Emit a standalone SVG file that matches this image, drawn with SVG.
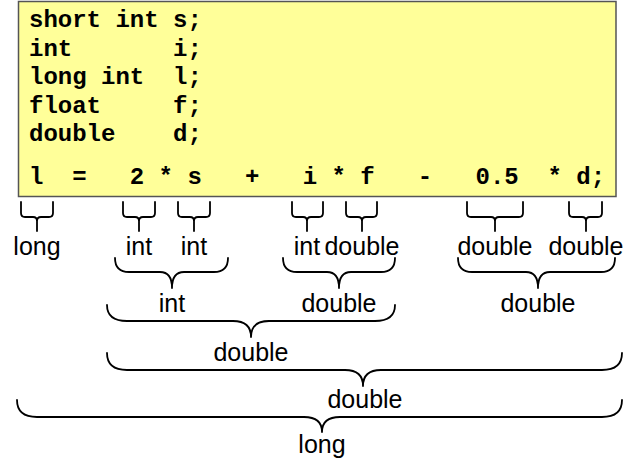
<svg xmlns="http://www.w3.org/2000/svg" width="625" height="462" viewBox="0 0 625 462">
<style>
.code{font-family:"Liberation Mono","Courier New",monospace;font-weight:bold;font-size:24px;fill:#000}
.lbl{font-family:"Liberation Sans",Arial,sans-serif;font-size:25px;fill:#000;text-anchor:middle}
.br{fill:none;stroke:#000;stroke-width:1.8;stroke-linecap:round;stroke-linejoin:round}
</style>
<rect width="625" height="462" fill="#fff"/>
<g id="codebox">
<rect x="18.5" y="1.5" width="597.5" height="195" fill="#FFFF99" stroke="#555" stroke-width="1.5"/>
<text class="code" xml:space="preserve" x="29" y="27">short int s;</text>
<text class="code" xml:space="preserve" x="29" y="55.5">int       i;</text>
<text class="code" xml:space="preserve" x="29" y="84">long int  l;</text>
<text class="code" xml:space="preserve" x="29" y="112.5">float     f;</text>
<text class="code" xml:space="preserve" x="29" y="141">double    d;</text>
<text class="code" xml:space="preserve" x="29" y="184">l  =   2 * s   +   i * f   -   0.5  * d;</text>
</g>
<g id="connectors">
<path class="br" d="M21,202 L21,213 Q21,217 25,217 L33,217 Q37,217 37,221 L37,231 M37,221 Q37,217 41,217 L49,217 Q53,217 53,213 L53,202"/>
<path class="br" d="M123,202 L123,213 Q123,217 127,217 L135,217 Q139,217 139,221 L139,231 M139,221 Q139,217 143,217 L151,217 Q155,217 155,213 L155,202"/>
<path class="br" d="M178,202 L178,213 Q178,217 182,217 L190,217 Q194,217 194,221 L194,231 M194,221 Q194,217 198,217 L206,217 Q210,217 210,213 L210,202"/>
<path class="br" d="M292,202 L292,213 Q292,217 296,217 L303,217 Q307,217 307,221 L307,231 M307,221 Q307,217 311,217 L319,217 Q323,217 323,213 L323,202"/>
<path class="br" d="M346,202 L346,213 Q346,217 350,217 L358,217 Q362,217 362,221 L362,231 M362,221 Q362,217 366,217 L373,217 Q377,217 377,213 L377,202"/>
<path class="br" d="M467,202 L467,213 Q467,217 471,217 L491,217 Q495,217 495,221 L495,231 M495,221 Q495,217 499,217 L519,217 Q523,217 523,213 L523,202"/>
<path class="br" d="M569,202 L569,213 Q569,217 573,217 L582,217 Q586,217 586,221 L586,231 M586,221 Q586,217 590,217 L598,217 Q602,217 602,213 L602,202"/>
<path class="br" d="M115,258 Q115,272 129,272 L160,272 Q172,272 172,288 Q172,272 184,272 L214,272 Q228,272 228,258"/>
<path class="br" d="M283,258 Q283,272 297,272 L327,272 Q339,272 339,288 Q339,272 351,272 L381,272 Q395,272 395,258"/>
<path class="br" d="M458,258 Q458,272 472,272 L526,272 Q538,272 538,288 Q538,272 550,272 L601,272 Q615,272 615,258"/>
<path class="br" d="M107,305 Q107,321 127,321 L233,321 Q251,321 251,337 Q251,321 269,321 L375,321 Q395,321 395,305"/>
<path class="br" d="M107,353 Q107,370 127,370 L345,370 Q363,370 363,386 Q363,370 381,370 L602,370 Q622,370 622,353"/>
<path class="br" d="M17,400 Q17,417 37,417 L304,417 Q322,417 322,432 Q322,417 340,417 L602,417 Q622,417 622,400"/>
</g>
<g id="t-l"><text class="lbl" x="37" y="255">long</text></g>
<g id="t-2"><text class="lbl" x="139" y="255">int</text></g>
<g id="t-s"><text class="lbl" x="194" y="255">int</text></g>
<g id="t-i"><text class="lbl" x="307" y="255">int</text></g>
<g id="t-f"><text class="lbl" x="362" y="255">double</text></g>
<g id="t-05"><text class="lbl" x="495" y="255">double</text></g>
<g id="t-d"><text class="lbl" x="586" y="255">double</text></g>
<g id="t-2s"><text class="lbl" x="172" y="312">int</text></g>
<g id="t-if"><text class="lbl" x="339" y="312">double</text></g>
<g id="t-05d"><text class="lbl" x="538" y="312">double</text></g>
<g id="t-sum"><text class="lbl" x="251" y="361">double</text></g>
<g id="t-diff"><text class="lbl" x="365" y="408">double</text></g>
<g id="t-assign"><text class="lbl" x="322" y="453">long</text></g>
</svg>
